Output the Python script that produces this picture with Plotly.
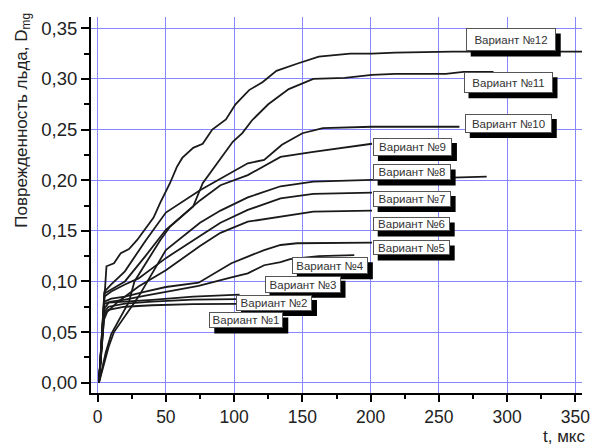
import plotly.graph_objects as go

# Ice damage D_mg versus time t (µs) for twelve design variants
t_1 = [1, 5, 8, 20, 40, 70, 102]
d_1 = [0, 0.068, 0.072, 0.075, 0.0765, 0.0775, 0.0778]

t_2 = [1, 5, 8, 20, 40, 70, 102]
d_2 = [0, 0.070, 0.075, 0.078, 0.080, 0.082, 0.0825]

t_3 = [1, 5, 8, 20, 40, 70, 104]
d_3 = [0, 0.073, 0.079, 0.080, 0.0817, 0.085, 0.087]

t_4 = [1, 5, 10, 20, 35, 50, 74, 98, 110, 122, 134, 141, 162, 188]
d_4 = [0, 0.078, 0.080, 0.082, 0.086, 0.0895, 0.0955, 0.104, 0.108, 0.116, 0.119, 0.122, 0.125, 0.126]

t_5 = [1, 5, 10, 20, 35, 50, 74, 98, 110, 122, 134, 146, 201]
d_5 = [0, 0.080, 0.083, 0.085, 0.090, 0.0945, 0.0988, 0.118, 0.1245, 0.131, 0.136, 0.1377, 0.1383]

t_6 = [1, 4, 7, 15, 30, 50, 75, 90, 110, 134, 158, 201]
d_6 = [0, 0.060, 0.070, 0.080, 0.095, 0.111, 0.135, 0.148, 0.159, 0.164, 0.169, 0.170]

t_7 = [1, 5, 10, 20, 30, 50, 75, 90, 110, 134, 158, 201]
d_7 = [0, 0.085, 0.090, 0.097, 0.103, 0.123, 0.145, 0.158, 0.1707, 0.182, 0.1865, 0.1877]

t_8 = [1, 8, 12, 20, 30, 50, 75, 90, 110, 134, 158, 201, 240, 285]
d_8 = [0, 0.035, 0.050, 0.065, 0.085, 0.131, 0.158, 0.170, 0.183, 0.194, 0.1986, 0.2003, 0.2015, 0.2036]

t_9 = [1, 5, 10, 20, 35, 50, 75, 90, 110, 134, 158, 201]
d_9 = [0, 0.088, 0.092, 0.100, 0.125, 0.151, 0.180, 0.195, 0.205, 0.223, 0.228, 0.236]

t_10 = [1, 5, 10, 20, 35, 50, 75, 95, 110, 122, 135, 150, 165, 201, 265]
d_10 = [0, 0.090, 0.097, 0.110, 0.140, 0.168, 0.190, 0.205, 0.2167, 0.220, 0.235, 0.2464, 0.2514, 0.2528, 0.2528]

t_11 = [1, 6, 10, 17, 23, 27, 36.5, 46, 53, 70, 77, 89, 99, 106, 113, 125, 140, 158, 181, 201, 218, 255, 268, 290]
d_11 = [0, 0.030, 0.048, 0.065, 0.080, 0.100, 0.121, 0.141, 0.154, 0.174, 0.197, 0.220, 0.238, 0.2465,
        0.259, 0.275, 0.290, 0.300, 0.301, 0.304, 0.305, 0.305, 0.307, 0.307]

t_12 = [1, 6.5, 12, 17, 23, 29, 35, 41, 46, 53, 58, 62, 70, 77, 84, 94, 101, 111, 121, 131, 146, 162,
        185, 201, 218, 260, 355]
d_12 = [0, 0.115, 0.118, 0.128, 0.132, 0.141, 0.152, 0.163, 0.178, 0.197, 0.213, 0.222, 0.232, 0.236,
        0.250, 0.260, 0.275, 0.289, 0.297, 0.308, 0.315, 0.322, 0.325, 0.325, 0.326, 0.327, 0.327]

series_t = [t_1, t_2, t_3, t_4, t_5, t_6, t_7, t_8, t_9, t_10, t_11, t_12]
series_d = [d_1, d_2, d_3, d_4, d_5, d_6, d_7, d_8, d_9, d_10, d_11, d_12]
variant_names = ["Вариант №%d" % i for i in range(1, 13)]

# Callout anchor points (data units) and box sizes (px)
label_t = [108.9, 129.2, 150.1, 170.1, 229.7, 229.7, 230.0, 230.0, 230.6, 300.8, 300.6, 302.6]
label_d = [0.0615, 0.0788, 0.0972, 0.1156, 0.1331, 0.1563, 0.1815, 0.2077, 0.2329, 0.2559, 0.2962, 0.3386]
label_w = [74, 76, 76, 76, 77, 77, 78, 78, 79, 87, 89, 90]
label_h = [16, 16, 17, 17, 15, 14, 16, 16, 18, 19, 21, 23]
SHADOW = 5  # drop-shadow offset, px

y_ticks = [0.0, 0.05, 0.10, 0.15, 0.20, 0.25, 0.30, 0.35]
x_ticks = [0, 50, 100, 150, 200, 250, 300, 350]

FONT = "Liberation Sans, Arial, sans-serif"
GRID = "rgb(135,135,255)"

fig = go.Figure()
for tt, dd, name in zip(series_t, series_d, variant_names):
    fig.add_trace(go.Scatter(x=tt, y=dd, mode="lines", name=name,
                             line=dict(color="#1a1a1a", width=1.8), showlegend=False))

shapes = []
annotations = []
for i in range(12):
    w, h = label_w[i], label_h[i]
    # black drop shadow, anchored to the callout position and sized in pixels
    shapes.append(dict(type="rect", xref="x", yref="y", xsizemode="pixel", ysizemode="pixel",
                       xanchor=label_t[i], yanchor=label_d[i],
                       x0=-w / 2 + SHADOW, x1=w / 2 + SHADOW, y0=-h / 2 - SHADOW, y1=h / 2 - SHADOW,
                       fillcolor="black", line=dict(width=0), layer="above"))
    annotations.append(dict(x=label_t[i], y=label_d[i], xref="x", yref="y", showarrow=False,
                            text=variant_names[i], width=w - 4, height=h - 4, borderpad=1,
                            borderwidth=1, bgcolor="white", bordercolor="#555",
                            xanchor="center", yanchor="middle", align="center",
                            font=dict(family=FONT, size=11.5, color="#333")))

annotations.append(dict(text="Поврежденность льда, D<sub>mg</sub>", x=-0.138, y=0.725,
                        xref="paper", yref="paper", showarrow=False, textangle=-90,
                        xanchor="center", yanchor="middle",
                        font=dict(family=FONT, size=17, color="#222")))
annotations.append(dict(text="t, мкс", x=0.964, y=-0.117, xref="paper", yref="paper",
                        showarrow=False, xanchor="center", yanchor="middle",
                        font=dict(family=FONT, size=17, color="#222")))

fig.update_layout(
    width=601, height=448,
    margin=dict(l=91, r=11, t=17, b=55),
    paper_bgcolor="white", plot_bgcolor="white",
    separators=", ",
    shapes=shapes,
    annotations=annotations,
    font=dict(family=FONT, size=17, color="#222"),
)
fig.update_xaxes(range=[-4.83, 354.8], tickvals=x_ticks, showgrid=True, gridcolor=GRID, gridwidth=1,
                 zeroline=False, showline=True, linecolor="black", linewidth=2,
                 ticks="outside", ticklen=7, tickwidth=2, tickcolor="black",
                 minor=dict(dtick=25, tick0=0, ticks="outside", ticklen=4, tickwidth=2,
                            tickcolor="black", showgrid=False),
                 tickfont=dict(family=FONT, size=17.5, color="#222"))
fig.update_yaxes(range=[-0.0102, 0.3612], tickvals=y_ticks, tickformat=".2f", showgrid=True,
                 gridcolor=GRID, gridwidth=1, zeroline=False, showline=True, linecolor="black",
                 linewidth=2, ticks="outside", ticklen=8, tickwidth=2, tickcolor="black",
                 minor=dict(dtick=0.025, tick0=0, ticks="outside", ticklen=5, tickwidth=2,
                            tickcolor="black", showgrid=False),
                 tickfont=dict(family=FONT, size=18.5, color="#222"))

fig.write_html("out.html")
